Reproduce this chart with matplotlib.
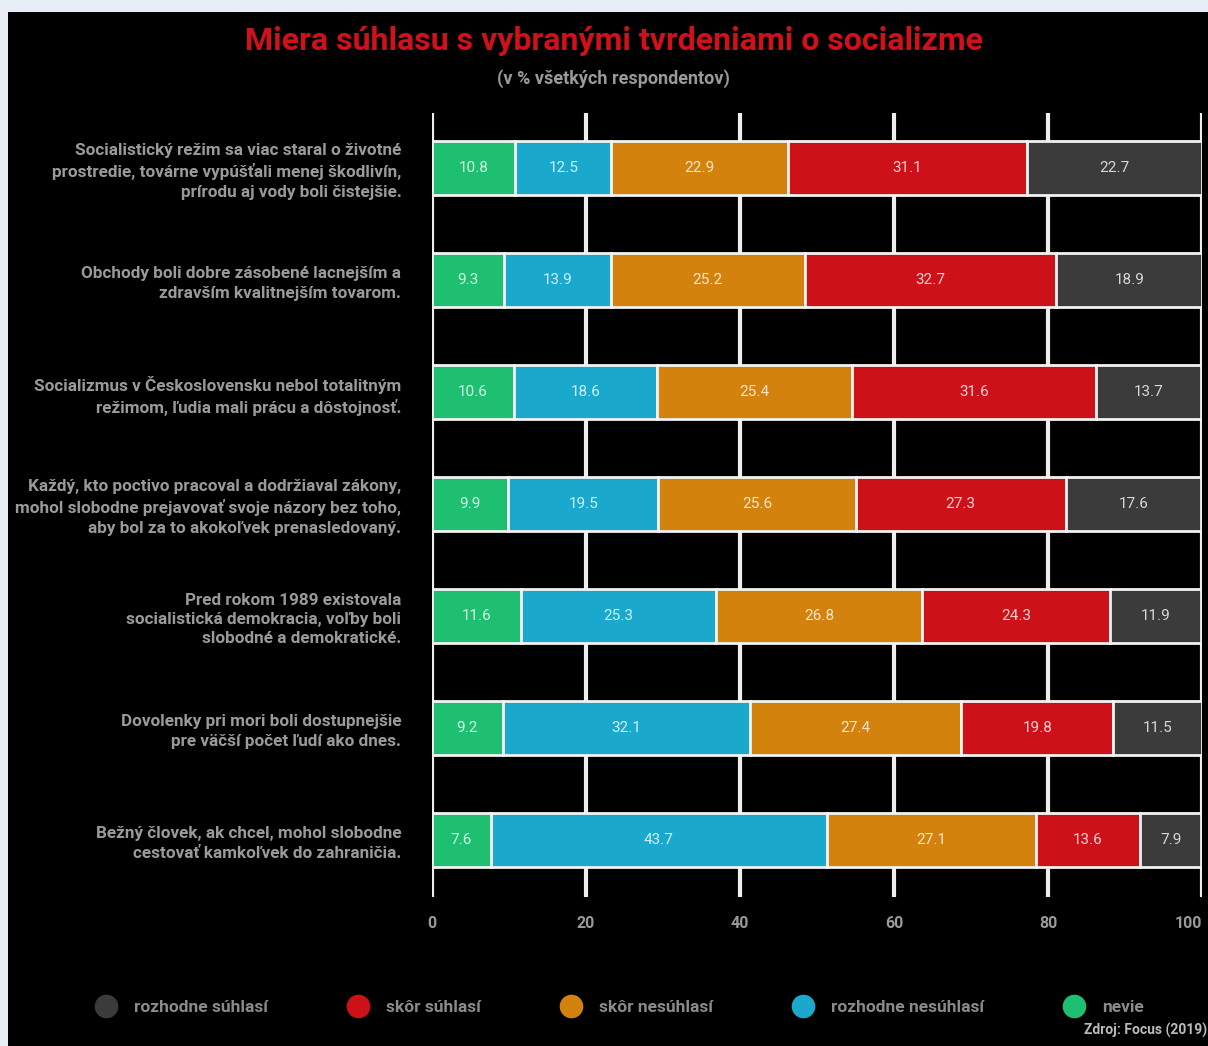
import matplotlib.pyplot as plt
import numpy as np
from matplotlib.patches import Rectangle
from matplotlib.lines import Line2D

plt.rcParams['font.family'] = ['Roboto', 'DejaVu Sans']

# Tvrdenia (zhora nadol)
tvrdenia = [
    'Socialistický režim sa viac staral o životné\nprostredie, továrne vypúšťali menej škodlivín,\nprírodu aj vody boli čistejšie.',
    'Obchody boli dobre zásobené lacnejším a\nzdravším kvalitnejším tovarom.',
    'Socializmus v Československu nebol totalitným\nrežimom, ľudia mali prácu a dôstojnosť.',
    'Každý, kto poctivo pracoval a dodržiaval zákony,\nmohol slobodne prejavovať svoje názory bez toho,\naby bol za to akokoľvek prenasledovaný.',
    'Pred rokom 1989 existovala\nsocialistická demokracia, voľby boli\nslobodné a demokratické.',
    'Dovolenky pri mori boli dostupnejšie\npre väčší počet ľudí ako dnes.',
    'Bežný človek, ak chcel, mohol slobodne\ncestovať kamkoľvek do zahraničia.',
]

# Hodnoty v % (poradie v stĺpci zľava doprava)
nevie = [10.8, 9.3, 10.6, 9.9, 11.6, 9.2, 7.6]
rozhodne_nesuhlasi = [12.5, 13.9, 18.6, 19.5, 25.3, 32.1, 43.7]
skor_nesuhlasi = [22.9, 25.2, 25.4, 25.6, 26.8, 27.4, 27.1]
skor_suhlasi = [31.1, 32.7, 31.6, 27.3, 24.3, 19.8, 13.6]
rozhodne_suhlasi = [22.7, 18.9, 13.7, 17.6, 11.9, 11.5, 7.9]

serie = [
    ('nevie', nevie, '#1fbf72'),
    ('rozhodne nesúhlasí', rozhodne_nesuhlasi, '#1aa9cc'),
    ('skôr nesúhlasí', skor_nesuhlasi, '#d4820e'),
    ('skôr súhlasí', skor_suhlasi, '#cc1119'),
    ('rozhodne súhlasí', rozhodne_suhlasi, '#3b3b3b'),
]

x_ticks = [0, 20, 40, 60, 80, 100]

fig = plt.figure(figsize=(12.08, 10.46), dpi=100)
fig.patch.set_facecolor('#e8eef5')
# čierny panel
fig.add_artist(Rectangle((8 / 1208, 0), 1, 1 - 12 / 1046, transform=fig.transFigure,
                         facecolor='black', edgecolor='none', zorder=-1))

ax = fig.add_axes([432 / 1208, 1 - 897 / 1046, 770 / 1208, 784 / 1046])
ax.set_facecolor('black')

y = np.arange(len(tvrdenia))
left = np.zeros(len(tvrdenia))
for nazov, hodnoty, farba in serie:
    hodnoty = np.array(hodnoty)
    ax.barh(y, hodnoty, left=left, height=0.48, color=farba, edgecolor='#f2f2f2',
            linewidth=2, zorder=3, label=nazov)
    for yi, l, v in zip(y, left, hodnoty):
        ax.text(l + v / 2, yi, f'{v:.1f}', ha='center', va='center', fontsize=11,
                color='white', alpha=0.8, zorder=4)
    left += hodnoty

ax.set_xlim(0, 100)
ax.set_ylim(6.51, -0.49)
ax.set_xticks(x_ticks)
ax.set_xticklabels([str(t) for t in x_ticks], color='#9a9a9a', fontsize=11.5, fontweight='bold')
ax.get_xticklabels()[-1].set_horizontalalignment('right')
ax.xaxis.grid(True, color='#eeeeee', linewidth=3, zorder=0)
ax.set_axisbelow(True)
ax.tick_params(axis='x', length=0, pad=14)
ax.set_yticks(y)
ax.set_yticklabels(tvrdenia, color='#9a9a9a', fontsize=12.3, fontweight='bold',
                   linespacing=1.35)
ax.tick_params(axis='y', length=0, pad=22)
for s in ax.spines.values():
    s.set_visible(False)

# nadpis
fig.text(0.508, 0.961, 'Miera súhlasu s vybranými tvrdeniami o socializme',
         ha='center', va='center', fontsize=23, fontweight='bold', color='#d0101a')
fig.text(0.508, 0.925, '(v % všetkých respondentov)', ha='center', va='center',
         fontsize=13, fontweight='bold', color='#9a9a9a')

# legenda
handles = [Line2D([0], [0], marker='o', linestyle='none', markersize=16,
                  markerfacecolor=f, markeredgecolor=f, label=n)
           for n, _, f in serie[::-1]]
fig.legend(handles=handles, loc='center', bbox_to_anchor=(0.51, 0.037), ncol=5,
           frameon=False, columnspacing=4.2, handletextpad=0.6,
           labelcolor='#8a8a8a', prop={'size': 12.5, 'weight': 'bold'})

fig.text(0.999, 0.008, 'Zdroj: Focus (2019)', ha='right', va='bottom', fontsize=10,
         fontweight='bold', color='#bbbbbb')

fig.savefig('out.png', dpi=100, facecolor=fig.get_facecolor())
